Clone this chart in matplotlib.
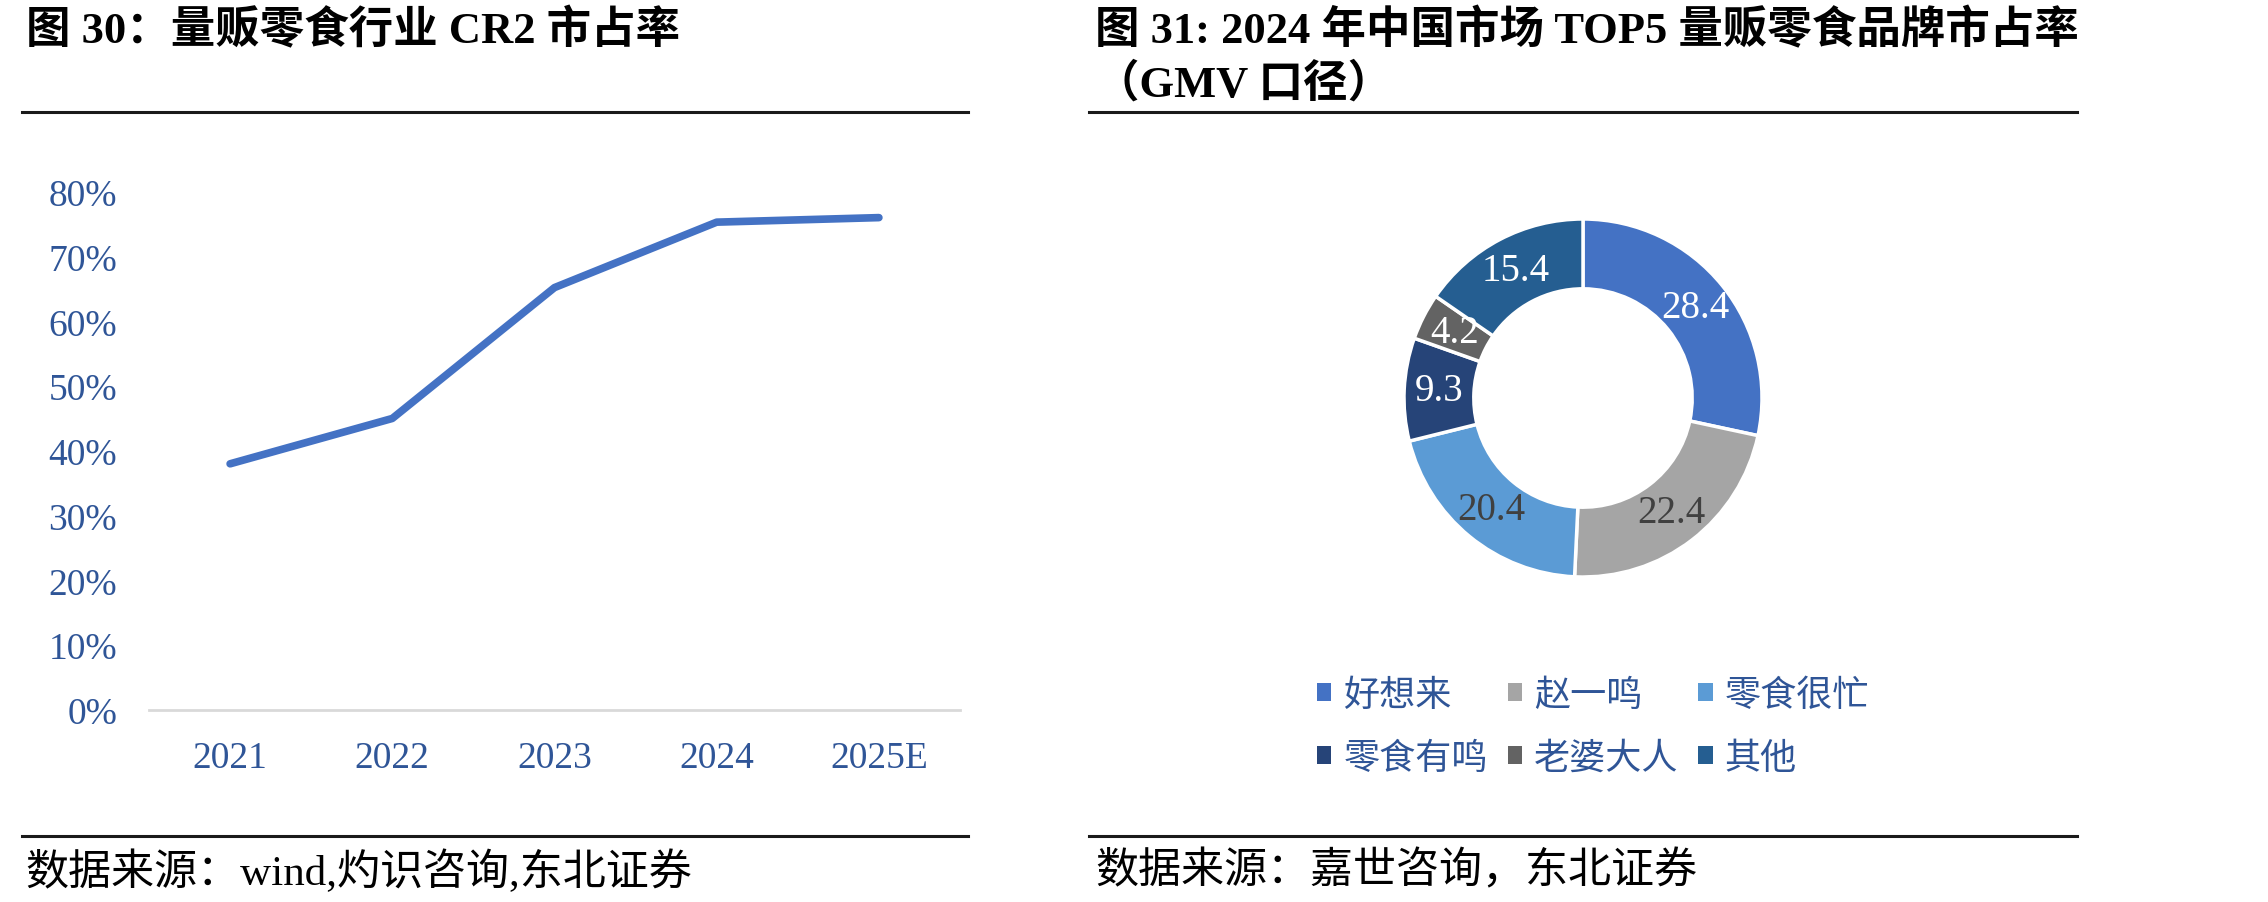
import matplotlib
matplotlib.use("Agg")
import numpy as np
from matplotlib import pyplot as plt
from matplotlib.lines import Line2D
from matplotlib.patches import Patch
from matplotlib.ticker import FuncFormatter

# left chart: CR2 share of the bulk snack retail industry
years = ["2021", "2022", "2023", "2024", "2025E"]
cr2 = [0.380, 0.450, 0.652, 0.753, 0.760]
y_ticks = [0.0, 0.1, 0.2, 0.3, 0.4, 0.5, 0.6, 0.7, 0.8]

# right chart: 2024 TOP5 brand shares (GMV)
brands = ["好想来", "赵一鸣", "零食很忙", "零食有鸣", "老婆大人", "其他"]
shares = [28.4, 22.4, 20.4, 9.3, 4.2, 15.4]
brand_colors = ["#4472C4", "#A5A5A5", "#5B9BD5", "#264478", "#636363", "#255E91"]
label_colors = ["white", "#404040", "#404040", "white", "white", "white"]

title_left = "图 30：量贩零食行业 CR2 市占率"
title_right_1 = "图 31: 2024 年中国市场 TOP5 量贩零食品牌市占率"
title_right_2 = "（GMV 口径）"
source_left = "数据来源：wind,灼识咨询,东北证券"
source_right = "数据来源：嘉世咨询，东北证券"

W, H = 2268, 903
SERIF_CJK = ["Liberation Serif", "Noto Sans CJK SC"]
TICK_BLUE = "#2F5597"


def fx(px):
    return px / W


def fy(py):
    return 1 - py / H


fig = plt.figure(figsize=(W / 100, H / 100), dpi=100)

# ---------------- line chart ----------------
ax1 = fig.add_axes([fx(149), fy(711), (960 - 149) / W, (711 - 192.7) / H])
x = np.arange(len(years))
ax1.plot(x, cr2, color="#4472C4", lw=5.5, solid_capstyle="round",
         solid_joinstyle="round", clip_on=False)
ax1.set_xlim(-0.5, len(years) - 0.5)
ax1.set_ylim(0, 0.8)
ax1.set_xticks(x)
ax1.set_xticklabels(years)
ax1.set_yticks(y_ticks)
ax1.yaxis.set_major_formatter(FuncFormatter(lambda v, p: "{:.0f}%".format(v * 100)))
for s in ["top", "right", "left"]:
    ax1.spines[s].set_visible(False)
ax1.spines["bottom"].set_color("#D9D9D9")
ax1.spines["bottom"].set_linewidth(2)
ax1.tick_params(axis="both", length=0, labelsize=27, labelcolor=TICK_BLUE)
ax1.tick_params(axis="x", pad=22)
ax1.tick_params(axis="y", pad=23)
for lab in ax1.get_xticklabels() + ax1.get_yticklabels():
    lab.set_fontfamily("Liberation Serif")

# ---------------- donut chart ----------------
ax2 = fig.add_axes([fx(1404), fy(578), 358 / W, 358 / H])
wedges, _ = ax2.pie(shares, colors=brand_colors, startangle=90, counterclock=False,
                    radius=1.0,
                    wedgeprops=dict(width=0.39, edgecolor="white", linewidth=2.5))
ax2.set_xlim(-1, 1)
ax2.set_ylim(-1, 1)
ax2.set_aspect("equal")
r_mid = 1.0 - 0.39 / 2
for w, val, c in zip(wedges, shares, label_colors):
    ang = np.deg2rad((w.theta1 + w.theta2) / 2)
    ax2.text(r_mid * np.cos(ang), r_mid * np.sin(ang), "{:.1f}".format(val),
             ha="center", va="center", color=c, fontsize=28,
             family="Liberation Serif")

# legend in row-major order
order = [0, 3, 1, 4, 2, 5]
handles = [Patch(facecolor=brand_colors[i], edgecolor="none") for i in order]
labels = [brands[i] for i in order]
ax2.legend(handles, labels, ncol=3, loc="upper left",
           bbox_to_anchor=(fx(1317), fy(678)), bbox_transform=fig.transFigure,
           frameon=False, borderpad=0, borderaxespad=0,
           handlelength=0.4, handleheight=0.4, handletextpad=0.33,
           columnspacing=0.55, labelspacing=0.75,
           prop=dict(family="Noto Sans CJK SC", size=26), labelcolor=TICK_BLUE)

# ---------------- titles, rules, sources ----------------
fig.text(fx(26), fy(31), title_left, family=SERIF_CJK, weight="bold",
         fontsize=32, va="center", ha="left")
fig.text(fx(1095), fy(31), title_right_1, family=SERIF_CJK, weight="bold",
         fontsize=32, va="center", ha="left")
fig.text(fx(1095), fy(84), title_right_2, family=SERIF_CJK, weight="bold",
         fontsize=32, va="center", ha="left")

for x0, x1 in [(22, 968), (1089, 2077)]:
    for yy in (113, 837):
        fig.add_artist(Line2D([fx(x0), fx(x1)], [fy(yy), fy(yy)],
                              color="#1A1A1A", lw=2.2))

fig.text(fx(25), fy(872), source_left, family=SERIF_CJK, fontsize=31,
         va="center", ha="left")
fig.text(fx(1095), fy(872), source_right, family=SERIF_CJK, fontsize=31,
         va="center", ha="left")

fig.savefig("out.png", dpi=100)
